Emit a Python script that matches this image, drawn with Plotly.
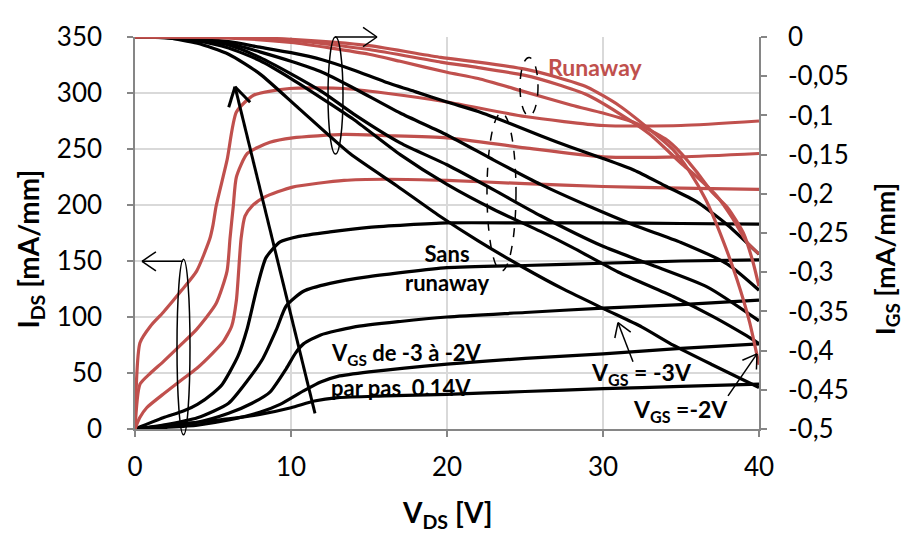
import math
import plotly.graph_objects as go

# ---------------- data ----------------
# Drain current I_DS [mA/mm] vs V_DS [V], VGS from -3 V (1) to -2 V (8)
ids_x_1 = [0, 2, 4, 6, 8, 10, 11.5, 13, 16, 20, 25, 30, 35, 40]
ids_y_1 = [0, 3, 6, 9, 13, 19, 25, 28, 29.5, 31, 33.5, 36, 38, 40]
ids_x_2 = [0, 2, 4, 6, 8, 9.3, 10.8, 11.9, 13, 15, 20, 25, 30, 35, 40]
ids_y_2 = [0, 1.5, 3.5, 8, 15, 22, 34, 42, 47, 51, 58, 63, 67, 72, 76]
ids_x_3 = [0, 2, 4, 6, 7.5, 8.65, 9.7, 10.3, 10.8, 11.9, 14, 17, 20, 25, 30, 35, 40]
ids_y_3 = [0, 2.5, 6, 14, 23, 33, 54, 68, 76, 84, 91, 96, 100, 104, 108, 111, 115]
ids_x_4 = [0, 2, 4, 6, 7.2, 8.2, 9.07, 9.7, 10.8, 12.5, 15, 20, 25, 30, 35, 40]
ids_y_4 = [0, 4, 10, 23, 43, 63, 89, 110, 123, 130, 136, 144, 146, 148, 150, 151]
ids_x_5 = [0, 1.8, 3.1, 4, 5, 5.6, 6.6, 7.2, 7.8, 8.4, 9.3, 10.5, 12.5, 15, 20, 25, 30, 35, 40]
ids_y_5 = [0, 10, 16, 22, 32, 40, 65, 90, 125, 153, 167, 172, 176, 180, 184, 184, 184, 183.5, 183]
ids_x_6 = [0, 0.3, 0.75, 1.8, 3, 3.95, 5, 5.66, 6.2, 6.5, 6.8, 7.05, 7.5, 8.3, 10.1, 13.4, 16, 20, 25, 30, 35, 40]
ids_y_6 = [0, 10, 19, 31, 44, 54, 68, 78, 92, 115, 170, 190, 199, 207, 216, 222, 223, 222, 219, 216.5, 215, 214]
ids_x_7 = [0, 0.32, 1, 1.8, 3, 3.95, 5.2, 5.9, 6.09, 6.3, 6.5, 7.2, 8.65, 10.1, 13.4, 16, 20, 25, 30, 35, 40]
ids_y_7 = [0, 40, 50, 60, 76, 89, 112, 141, 170, 199, 225, 246, 256, 260, 263, 262, 260, 251, 243, 243, 246]
ids_x_8 = [0, 0.32, 1, 1.8, 3, 3.95, 4.8, 5.0, 5.2, 5.9, 6.5, 7.6, 9.9, 13.4, 16, 20, 25, 30, 35, 40]
ids_y_8 = [0, 77, 92, 104, 124, 141, 170, 182, 199, 240, 283, 298, 304, 304, 300, 292, 279, 271, 271, 275]

# Gate current I_GS [mA/mm] vs V_DS [V]
igs_x_1 = [0, 2, 4, 6, 8, 10.5, 13.8, 16.8, 19.5, 22, 24.9, 27.5, 30.2, 32.5, 34.5, 37, 40]
igs_y_1 = [0, -0.001, -0.008, -0.022, -0.047, -0.091, -0.149, -0.19, -0.228, -0.26, -0.294, -0.322, -0.348, -0.37, -0.393, -0.418, -0.447]
igs_x_2 = [0, 2, 4, 6, 8, 10, 12.5, 14, 17, 20, 23, 26, 28, 31, 34.5, 37, 39.2, 40]
igs_y_2 = [0, -0.001, -0.005, -0.014, -0.030, -0.053, -0.085, -0.105, -0.150, -0.188, -0.220, -0.248, -0.268, -0.300, -0.331, -0.356, -0.381, -0.391]
igs_x_3 = [0, 3, 6, 8, 10, 12, 14, 17, 20, 23, 26, 30, 33, 36.7, 40]
igs_y_3 = [0, -0.001, -0.010, -0.026, -0.047, -0.070, -0.098, -0.135, -0.163, -0.195, -0.228, -0.267, -0.29, -0.319, -0.362]
igs_x_4 = [0, 3, 6, 8, 10, 12, 14, 17, 20, 23, 26, 29, 32, 35, 38, 40]
igs_y_4 = [0, -0.001, -0.008, -0.019, -0.031, -0.045, -0.065, -0.097, -0.125, -0.157, -0.188, -0.215, -0.240, -0.262, -0.290, -0.323]
igs_x_5 = [0, 3, 6, 8, 10, 12, 14, 16, 18, 20, 22, 24, 26, 28, 30, 32, 34, 36, 38, 40]
igs_y_5 = [0, -0.001, -0.006, -0.013, -0.020, -0.029, -0.042, -0.057, -0.070, -0.083, -0.095, -0.110, -0.126, -0.141, -0.155, -0.170, -0.190, -0.210, -0.240, -0.277]
igs_x_6 = [0, 5.7, 10, 15, 17, 20, 22, 25, 28, 30, 32, 34, 35, 36, 37, 38, 39, 39.6, 40]
igs_y_6 = [0, -0.001, -0.007, -0.022, -0.031, -0.045, -0.053, -0.07, -0.087, -0.097, -0.109, -0.130, -0.148, -0.172, -0.198, -0.218, -0.250, -0.286, -0.318]
igs_x_7 = [0, 5.7, 10, 15, 19.6, 22, 25, 27, 29, 31, 33, 35, 36, 37.3, 38.3, 39.2, 40]
igs_y_7 = [0, 0, -0.004, -0.016, -0.032, -0.039, -0.049, -0.060, -0.074, -0.097, -0.124, -0.161, -0.178, -0.203, -0.231, -0.261, -0.277]
igs_x_8 = [0, 5.7, 10, 15, 19.6, 22, 25, 27, 29, 31, 33, 34.5, 35.5, 36.6, 37.7, 38.6, 39.4, 40]
igs_y_8 = [0, 0, -0.003, -0.011, -0.026, -0.032, -0.041, -0.051, -0.064, -0.087, -0.118, -0.144, -0.170, -0.208, -0.260, -0.310, -0.364, -0.418]

x_ticks = [0, 10, 20, 30, 40]
y_ticks = [0, 50, 100, 150, 200, 250, 300, 350]
y2_ticks = [0, -0.05, -0.1, -0.15, -0.2, -0.25, -0.3, -0.35, -0.4, -0.45, -0.5]
y2_tick_text = ["0", "-0,05", "-0,1", "-0,15", "-0,2", "-0,25", "-0,3", "-0,35", "-0,4", "-0,45", "-0,5"]

# ---------------- style ----------------
RED = "#C0504D"
BLACK = "#000000"
GRID = "#D9D9D9"
AXIS = "#868686"
FONT = "Lato, 'Open Sans', sans-serif"
OFF = 8                      # page offset of the figure inside the browser window
W, H = 909 - OFF, 534 - OFF
ML, MT = 135 - OFF, 27 - OFF
PW, PH = 624, 402
MR, MB = W - ML - PW, H - MT - PH

ids_sets = [(ids_x_1, ids_y_1), (ids_x_2, ids_y_2), (ids_x_3, ids_y_3), (ids_x_4, ids_y_4),
            (ids_x_5, ids_y_5), (ids_x_6, ids_y_6), (ids_x_7, ids_y_7), (ids_x_8, ids_y_8)]
igs_sets = [(igs_x_1, igs_y_1), (igs_x_2, igs_y_2), (igs_x_3, igs_y_3), (igs_x_4, igs_y_4),
            (igs_x_5, igs_y_5), (igs_x_6, igs_y_6), (igs_x_7, igs_y_7), (igs_x_8, igs_y_8)]
colors = [BLACK] * 5 + [RED] * 3

fig = go.Figure()
for i in range(8):
    x, y = ids_sets[i]
    fig.add_trace(go.Scatter(x=x, y=y, mode="lines", yaxis="y",
                             line=dict(color=colors[i], width=3.2, shape="spline", smoothing=0.6),
                             showlegend=False, hoverinfo="skip"))
for i in range(8):
    x, y = igs_sets[i]
    fig.add_trace(go.Scatter(x=x, y=y, mode="lines", yaxis="y2",
                             line=dict(color=colors[i], width=3.2, shape="spline", smoothing=0.6),
                             showlegend=False, hoverinfo="skip"))


# positions below are given in reference-image pixels
def px2paper(px, py):
    return (px - OFF - ML) / PW, (MT + PH - (py - OFF)) / PH


def arrow_shapes(tx, ty, hx, hy, width=1.5, wing=16, ang=32):
    ax0, ay0 = px2paper(tx, ty)
    ax1, ay1 = px2paper(hx, hy)
    shapes = [dict(type="line", xref="paper", yref="paper", x0=ax0, y0=ay0, x1=ax1, y1=ay1,
                   line=dict(color=BLACK, width=width))]
    dx, dy = tx - hx, ty - hy
    L = math.hypot(dx, dy)
    ux, uy = dx / L, dy / L
    for s in (1, -1):
        a = math.radians(ang * s)
        wx = ux * math.cos(a) - uy * math.sin(a)
        wy = ux * math.sin(a) + uy * math.cos(a)
        p0 = px2paper(hx, hy)
        p1 = px2paper(hx + wx * wing, hy + wy * wing)
        shapes.append(dict(type="line", xref="paper", yref="paper", x0=p0[0], y0=p0[1],
                           x1=p1[0], y1=p1[1], line=dict(color=BLACK, width=width)))
    return shapes


def ellipse(px0, px1, py0, py1, dash="solid"):
    x0, y0 = px2paper(px0, py1)
    x1, y1 = px2paper(px1, py0)
    return dict(type="circle", xref="paper", yref="paper", x0=x0, x1=x1, y0=y0, y1=y1,
                line=dict(color=BLACK, width=1.5, dash=dash))


shapes = []
shapes += arrow_shapes(315, 413, 235, 78, width=3, wing=22, ang=30)
shapes += arrow_shapes(183, 257, 142, 257, width=1.5, wing=17, ang=35)
shapes += arrow_shapes(335, 27, 377, 27, width=1.5, wing=17, ang=35)
shapes += arrow_shapes(633, 360, 618, 320, width=1.5, wing=16, ang=32)
shapes += arrow_shapes(728, 395, 757, 352, width=1.5, wing=16, ang=32)
shapes.append(ellipse(177, 190, 255, 435))
shapes.append(ellipse(328, 343, 27, 147))
shapes.append(ellipse(520, 538, 48, 108, dash="dash"))
shapes.append(ellipse(487, 516, 105, 267, dash="dash"))


def txt(text, px, py, size=22, color=BLACK, xanchor="left", align="left", angle=0, yanchor="middle"):
    x, y = px2paper(px, py)
    return dict(text=text, x=x, y=y, xref="paper", yref="paper", showarrow=False,
                xanchor=xanchor, yanchor=yanchor, align=align, textangle=angle,
                font=dict(family=FONT, size=size, color=color))


annotations = [
    txt("<b>Runaway</b>", 546, 58, size=23, color=RED),
    txt("<b>Sans<br>runaway</b>", 447, 264, size=22, xanchor="center", align="center"),
    txt("<b>V<sub>GS</sub> de -3 à -2V</b>", 329, 352, size=22),
    txt("<b>par pas&nbsp;&nbsp;0.14V</b>", 329, 386, size=22),
    txt("<b>V<sub>GS</sub> = -3V</b>", 589, 372, size=23),
    txt("<b>V<sub>GS</sub> =-2V</b>", 631, 410, size=23),
    # axis titles
    txt("<b>V<sub>DS</sub> [V]</b>", 447, 516, size=28, xanchor="center", align="center"),
    txt("<b>I<sub>DS</sub> [mA/mm]</b>", 30, 244, size=28, xanchor="center", align="center", angle=-90),
    txt("<b>I<sub>GS</sub> [mA/mm]</b>", 886, 255, size=27, xanchor="center", align="center", angle=-90),
]

fig.update_layout(
    width=W, height=H,
    margin=dict(l=ML, r=MR, t=MT, b=MB),
    paper_bgcolor="white", plot_bgcolor="white",
    font=dict(family=FONT, size=26, color=BLACK),
    showlegend=False,
    shapes=shapes,
    annotations=annotations,
    xaxis=dict(range=[0, 40], tickvals=x_ticks, showgrid=True, gridcolor=GRID, gridwidth=1.5,
               zeroline=False, showline=True, linecolor=AXIS, linewidth=1.5,
               ticks="outside", ticklen=6, tickcolor=AXIS, tickwidth=1.5,
               tickfont=dict(size=26), ticklabelstandoff=8),
    yaxis=dict(range=[0, 350], tickvals=y_ticks, showgrid=True, gridcolor=GRID, gridwidth=1.5,
               zeroline=False, showline=True, linecolor=AXIS, linewidth=1.5,
               ticks="outside", ticklen=6, tickcolor=AXIS, tickwidth=1.5,
               tickfont=dict(size=26), ticklabelstandoff=20),
    yaxis2=dict(range=[-0.5, 0], tickvals=y2_ticks, ticktext=y2_tick_text, overlaying="y",
                side="right", showgrid=False, zeroline=False, showline=True, linecolor=AXIS,
                linewidth=1.5, ticks="outside", ticklen=6, tickcolor=AXIS, tickwidth=1.5,
                tickfont=dict(size=26), ticklabelstandoff=16),
)

fig.write_html("out.html")
